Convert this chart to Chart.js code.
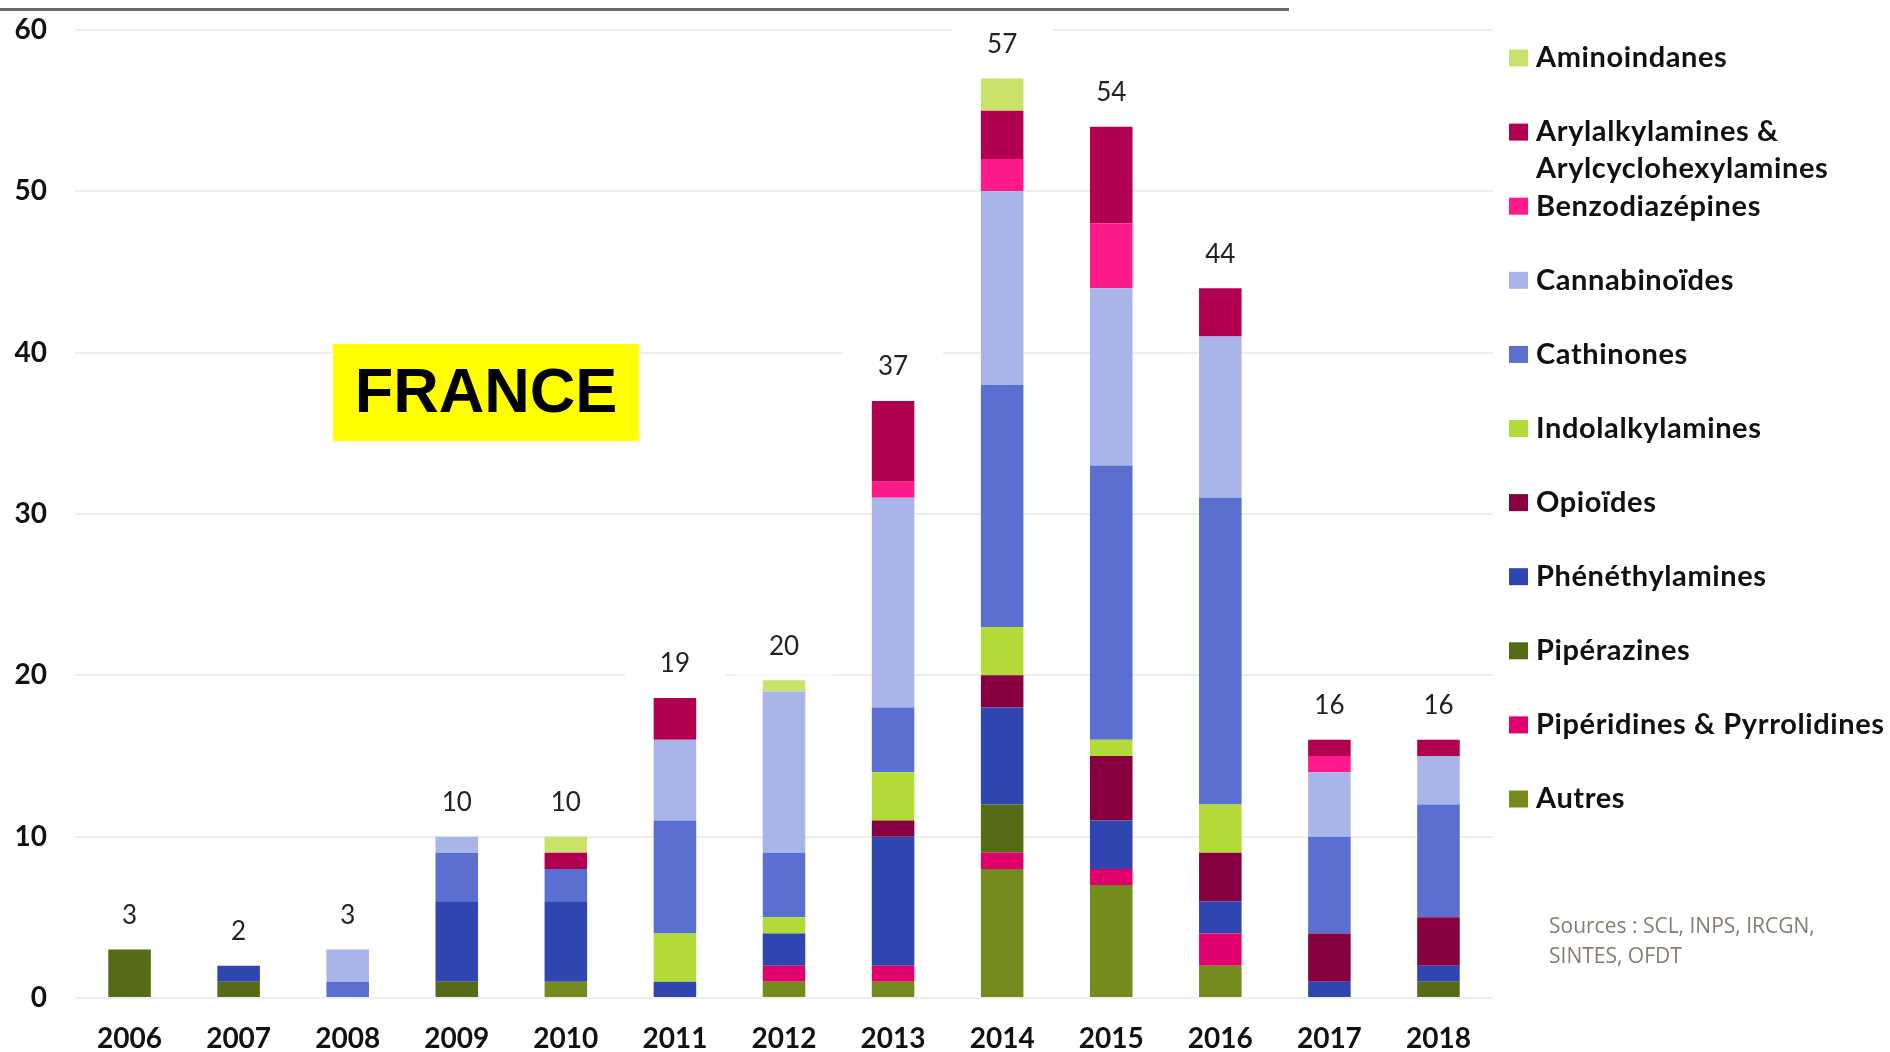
<!DOCTYPE html>
<html lang="fr">
<head>
<meta charset="utf-8">
<title>NPS France 2006-2018</title>
<script src="https://cdn.jsdelivr.net/npm/chart.js@4.4.1/dist/chart.umd.min.js"></script>
<style>
  html, body { margin: 0; padding: 0; background: #fff; }
  #wrap { width: 1890px; height: 1052px; position: relative; }
</style>
</head>
<body>
<div id="wrap"><canvas id="chart"></canvas></div>
<script>
// Données (nombre de nouvelles substances par famille et par an)
const years = ['2006', '2007', '2008', '2009', '2010', '2011', '2012', '2013', '2014', '2015', '2016', '2017', '2018'];
const totals = [3, 2, 3, 10, 10, 19, 20, 37, 57, 54, 44, 16, 16];

// du bas vers le haut de la pile
const autres       = [0, 0, 0, 0, 1, 0,   1,   1, 8,  7,  2,  0, 0];
const piperidines  = [0, 0, 0, 0, 0, 0,   1,   1, 1,  1,  2,  0, 0];
const piperazines  = [3, 1, 0, 1, 0, 0,   0,   0, 3,  0,  0,  0, 1];
const phenethyl    = [0, 1, 0, 5, 5, 1,   2,   8, 6,  3,  2,  1, 1];
const opioides     = [0, 0, 0, 0, 0, 0,   0,   1, 2,  4,  3,  3, 3];
const indolalkyl   = [0, 0, 0, 0, 0, 3,   1,   3, 3,  1,  3,  0, 0];
const cathinones   = [0, 0, 1, 3, 2, 7,   4,   4, 15, 17, 19, 6, 7];
const cannabi      = [0, 0, 2, 1, 0, 5,   10, 13, 12, 11, 10, 4, 3];
const benzo        = [0, 0, 0, 0, 0, 0,   0,   1, 2,  4,  0,  1, 0];
const arylalkyl    = [0, 0, 0, 0, 1, 2.6, 0,   5, 3,  6,  3,  1, 1];
const aminoind     = [0, 0, 0, 0, 1, 0,   0.7, 0, 2,  0,  0,  0, 0];

const series = [
  { label: 'Autres', data: autres, color: '#748c1e' },
  { label: 'Pipéridines & Pyrrolidines', data: piperidines, color: '#e0006e' },
  { label: 'Pipérazines', data: piperazines, color: '#556b16' },
  { label: 'Phénéthylamines', data: phenethyl, color: '#2f45b0' },
  { label: 'Opioïdes', data: opioides, color: '#870040' },
  { label: 'Indolalkylamines', data: indolalkyl, color: '#b3db37' },
  { label: 'Cathinones', data: cathinones, color: '#5a6fd0' },
  { label: 'Cannabinoïdes', data: cannabi, color: '#a9b5e8' },
  { label: 'Benzodiazépines', data: benzo, color: '#ff1a8c' },
  { label: ['Arylalkylamines &', 'Arylcyclohexylamines'], data: arylalkyl, color: '#b0004f' },
  { label: 'Aminoindanes', data: aminoind, color: '#c8e26a' }
];

// Habillage : filet du haut, cartouche FRANCE, totaux, légende, sources
const extras = {
  id: 'extras',
  afterDraw(chart) {
    const ctx = chart.ctx, xs = chart.scales.x, ys = chart.scales.y;
    ctx.save();
    ctx.fillStyle = '#6b6b62';
    ctx.fillRect(0, 8, 1289, 3);

    ctx.fillStyle = '#ffff00';
    ctx.fillRect(333, 344, 306, 97);
    ctx.fillStyle = '#000';
    ctx.font = 'bold 63px "Liberation Sans", Arial, sans-serif';
    ctx.textAlign = 'center'; ctx.textBaseline = 'middle';
    ctx.fillText('FRANCE', 486, 395);

    // totaux au-dessus des barres
    ctx.font = '26px Lato, sans-serif';
    years.forEach((yr, i) => {
      const top = chart.data.datasets.reduce((s, d) => s + d.data[i], 0);
      const px = xs.getPixelForValue(i), py = ys.getPixelForValue(top) - 34;
      ctx.fillStyle = '#fff';
      ctx.fillRect(px - 50, py - 29, 100, 58);
      ctx.fillStyle = '#222';
      ctx.fillText(String(totals[i]), px, py);
    });

    // légende
    ctx.textAlign = 'left';
    ctx.font = 'bold 29px Lato, sans-serif';
    ctx.letterSpacing = '0.6px';
    const ds = chart.data.datasets.slice().reverse();
    ds.forEach((d, k) => {
      const cy = 58 + 74.1 * k;
      ctx.fillStyle = d.backgroundColor;
      ctx.fillRect(1509, cy - 8.5, 19, 17);
      ctx.fillStyle = '#111';
      const lines = Array.isArray(d.label) ? d.label : [d.label];
      lines.forEach((t, j) => ctx.fillText(t, 1536, cy + 36.5 * j));
    });
    ctx.letterSpacing = '0px';

    // sources
    ctx.font = '21px "Open Sans", sans-serif';
    ctx.fillStyle = '#857d70';
    ctx.textBaseline = 'alphabetic';
    ctx.fillText('Sources : SCL, INPS, IRCGN,', 1549, 933);
    ctx.fillText('SINTES, OFDT', 1549, 963);
    ctx.restore();
  }
};

new Chart(document.getElementById('chart'), {
  type: 'bar',
  data: {
    labels: years,
    datasets: series.map(s => ({ label: s.label, data: s.data, backgroundColor: s.color, borderWidth: 0 }))
  },
  options: {
    responsive: true,
    maintainAspectRatio: false,
    animation: false,
    layout: { padding: { left: 0, right: 397, top: 30, bottom: 0 } },
    datasets: { bar: { barPercentage: 0.39, categoryPercentage: 1 } },
    plugins: { legend: { display: false }, tooltip: { enabled: false } },
    scales: {
      x: {
        stacked: true,
        grid: { display: false, drawTicks: false },
        border: { display: false },
        ticks: { color: '#111', padding: 24, font: { family: 'Lato', weight: 'bold', size: 28 } },
        afterFit: s => { s.height = 54; }
      },
      y: {
        stacked: true,
        min: 0, max: 60,
        grid: { color: '#eeeeee', lineWidth: 2, drawTicks: false },
        border: { display: false },
        ticks: { stepSize: 10, color: '#111', padding: 28, font: { family: 'Lato', weight: 'bold', size: 28 } },
        afterFit: s => { s.width = 75; s.paddingTop = 0; s.paddingBottom = 0; }
      }
    }
  },
  plugins: [extras]
});
</script>
</body>
</html>
